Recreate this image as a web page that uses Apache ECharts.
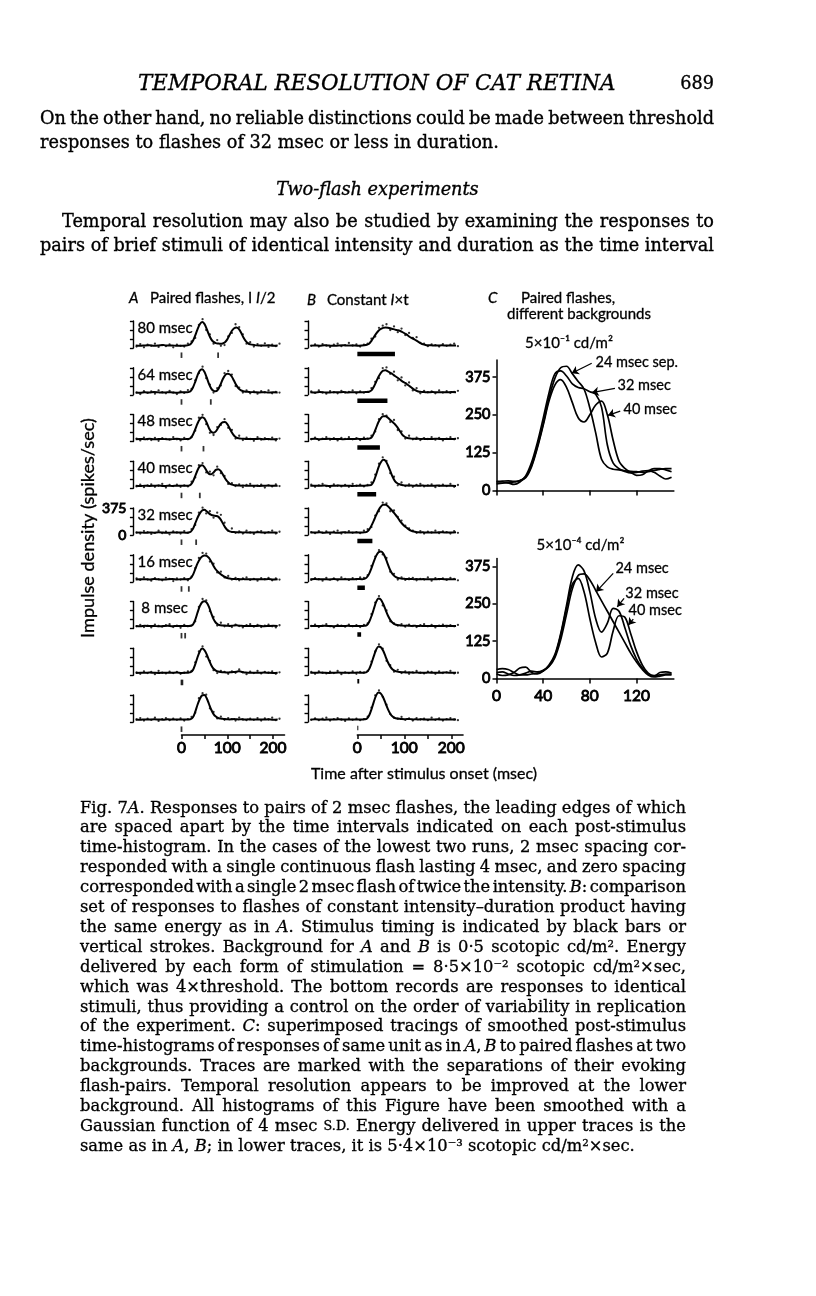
<!DOCTYPE html>
<html>
<head>
<meta charset="utf-8">
<script src="https://cdn.jsdelivr.net/npm/echarts@6.0.0/dist/echarts.min.js"></script>
<style>
  html, body { margin: 0; padding: 0; background: #fff; }
  #chart { width: 816px; height: 1296px; }
</style>
</head>
<body>
<div id="chart"></div>
<script>
// ---------- data ----------
// A: spacing between the two flashes, B: flash duration (msec)
const pairIntervals = [80, 64, 48, 40, 32, 16, 8, 2, 0];
const pairLabels = ['80 msec', '64 msec', '48 msec', '40 msec', '32 msec', '16 msec', ' 8 msec', '', ''];
const flashDurations = [80, 64, 48, 40, 32, 16, 8, 4, 2];

// time grid of the smoothed histograms (msec after onset)
const histTimes = [-100, -90, -80, -70, -60, -50, -40, -30, -20, -10, 0, 10,
  15, 20, 25, 30, 35, 40, 45, 50, 55, 60, 65, 70, 75, 80, 85, 90, 95, 100,
  105, 110, 115, 120, 125, 130, 135, 140, 145, 150,
  160, 170, 180, 190, 200, 210];
// bins of the raw histogram dots
const dotTimes = [-98, -90, -82, -74, -66, -58, -50, -42, -34, -26, -18, -10, -2, 6, 14,
  22, 30, 38, 46, 54, 62, 70, 78, 86, 94, 102, 110, 118, 126, 134, 142, 150,
  158, 166, 174, 182, 190, 198, 206, 214];

// smoothed curves, panel A (spikes/sec)
const pairA80 = [35,30,36,38,32,35,40,33,36,30,32,35, 40,55,100,175,260,330,360,335,265,185,120,85,68,62,58,62,80,120,180,240,275,285,265,215,150,100,68,50, 40,36,34,38,32,35];
const pairA64 = [32,28,35,30,38,33,30,36,32,28,34,33, 36,50,100,180,270,335,355,320,240,150,85,55,50,75,140,215,270,292,285,250,190,130,85,60,48,42,40,38, 35,32,36,30,34,32];
const pairA48 = [30,35,32,38,30,34,36,30,33,37,31,34, 36,50,95,170,250,310,337,320,260,185,135,122,140,190,240,268,270,240,185,125,80,55,45,40,38,36,35,36, 34,38,32,35,30,34];
const pairA40 = [34,30,36,32,35,38,30,34,32,36,33,35, 36,50,95,170,250,305,320,295,240,200,195,220,255,265,245,195,140,95,65,50,42,40,38,36,38,35,36,34, 36,32,35,38,33,35];
const pairA32 = [33,36,30,35,32,38,34,30,36,33,35,32, 35,45,85,160,240,300,340,350,330,300,280,270,265,255,220,165,110,70,50,42,40,38,36,38,35,37,34,36, 35,38,33,36,34,32];
const pairA16 = [30,34,36,32,38,33,30,35,37,32,34,33, 38,50,95,175,255,315,350,365,360,330,280,220,170,135,108,85,66,52,45,40,38,36,38,35,37,34,36,35, 33,36,34,38,32,36];
const pairA8 = [35,32,38,33,36,30,34,37,32,35,33,34, 35,38,55,120,220,310,365,380,360,300,210,130,80,55,45,42,40,38,36,38,42,44,40,37,35,36,34,36, 34,37,32,35,38,34];
const pairA2 = [32,35,33,38,34,31,36,33,35,37,32,34, 36,42,72,150,250,330,370,350,290,210,140,90,65,52,45,42,40,38,40,42,45,48,55,50,42,38,36,35, 36,33,37,34,32,35];
const pairA0 = [34,31,36,33,38,35,32,37,34,36,33,35, 36,40,65,140,240,320,370,375,330,250,170,110,75,55,48,44,40,38,36,38,40,37,35,38,36,34,37,35, 33,36,34,37,32,35];

// smoothed curves, panel B
const constB80 = [33,36,32,38,34,30,35,37,33,36,32,35, 38,45,60,100,150,200,240,265,280,285,282,275,265,255,248,240,225,205,185,160,140,125,105,85,65,50,42,38, 36,34,37,33,35,36];
const constB64 = [35,32,37,33,30,36,34,38,32,35,33,34, 36,38,42,60,110,180,250,305,335,340,325,305,285,260,240,215,190,170,150,125,100,75,58,45,40,38,36,35, 37,34,36,33,38,35];
const constB48 = [34,37,32,35,38,33,36,31,35,34,37,33, 35,37,40,55,110,190,270,325,350,350,330,300,270,240,200,150,100,70,52,45,40,38,36,38,35,37,34,36, 35,38,33,36,34,37];
const constB40 = [36,33,35,38,32,34,37,33,36,31,35,34, 35,37,40,50,100,190,290,360,395,380,320,240,160,100,70,55,45,40,38,36,38,35,37,34,36,38,35,36, 34,37,33,36,35,32];
const constB32 = [33,35,38,32,36,34,31,37,35,33,36,34, 38,45,75,130,200,275,345,395,420,420,400,365,330,290,250,200,160,125,100,75,58,48,42,38,36,37,35,36, 34,36,38,33,35,37];
const constB16 = [35,38,33,36,32,37,34,36,33,35,38,36, 40,60,110,190,280,360,410,420,395,330,240,160,105,72,55,48,42,40,38,36,38,35,37,36,34,37,35,36, 33,36,38,34,35,33];
const constB8 = [34,36,33,37,35,32,36,34,38,33,35,34, 38,45,90,170,270,370,415,400,340,260,180,120,80,58,48,45,40,38,40,37,35,38,36,34,37,35,36,34, 36,33,35,38,34,36];
const constB4 = [36,33,37,34,32,35,38,33,36,34,37,35, 38,45,85,165,265,355,400,390,340,260,180,120,80,60,50,45,42,40,38,40,37,35,38,36,34,36,35,37, 35,33,36,38,34,35];
const constB2 = [33,37,35,32,36,34,38,35,33,36,34,35, 38,45,90,175,280,370,410,395,340,260,180,115,75,55,48,44,40,38,40,42,38,36,37,35,38,36,34,36, 35,37,33,36,34,35];

// raw histogram dots, panel A
const dotsA80 = [20,55,10,45,30,60,15,40,25,50,10,45,30,20,60,90,140,320,400,250,190,60,110,30,40,160,210,330,290,190,60,80,20,55,30,65,15,45,25,60];
const dotsA64 = [30,10,50,25,45,15,60,35,20,55,30,10,45,25,65,80,200,300,390,230,140,30,90,130,300,330,280,120,100,30,60,20,45,15,50,35,60,20,40,30];
const dotsA48 = [40,15,55,30,20,50,10,45,35,25,60,30,15,50,30,60,150,330,370,240,120,90,200,230,310,190,160,40,80,20,55,35,10,60,25,45,30,55,15,40];
const dotsA40 = [25,50,15,40,55,20,35,60,10,45,30,50,20,40,25,90,150,320,350,220,230,180,300,210,170,60,70,30,55,15,45,60,20,35,50,10,40,25,55,30];
const dotsA32 = [35,20,55,40,15,30,60,25,45,10,50,35,20,55,30,80,140,310,380,300,330,240,310,280,170,60,90,30,50,20,60,35,15,45,55,25,40,60,20,45];
const dotsA16 = [45,25,60,30,15,50,35,20,55,40,10,45,30,50,20,70,190,330,400,390,280,250,130,140,60,80,30,55,20,45,60,25,40,15,50,35,55,20,45,30];
const dotsA8 = [30,50,20,40,15,55,35,25,45,60,20,40,10,50,30,40,100,300,410,390,240,160,40,80,30,60,20,55,35,15,45,60,25,50,20,40,55,30,15,45];
const dotsA2 = [40,20,55,30,45,15,60,35,25,50,30,45,20,35,55,60,180,330,400,260,200,70,30,60,45,20,55,35,80,40,15,50,30,60,25,45,35,55,20,40];
const dotsA0 = [35,55,20,45,30,60,15,40,55,25,45,30,50,20,40,70,130,330,400,380,190,140,50,75,30,55,40,20,60,35,25,45,30,55,20,50,35,60,25,45];

// raw histogram dots, panel B
const dotsB80 = [30,50,20,55,35,15,45,60,25,40,70,35,50,20,45,60,130,160,280,310,330,250,300,220,270,180,210,140,150,70,60,25,50,40,20,55,30,45,60,25];
const dotsB64 = [45,25,60,30,15,50,35,20,55,30,40,60,20,45,30,40,90,180,230,370,380,290,320,200,240,130,170,60,90,20,55,35,45,20,60,30,50,25,40,55];
const dotsB48 = [30,55,20,40,60,25,45,15,50,35,60,30,45,20,55,40,80,140,310,380,360,270,300,160,140,40,80,30,55,20,45,35,60,25,50,15,40,60,30,45];
const dotsB40 = [50,20,40,60,30,15,55,35,25,45,20,60,35,50,25,45,80,190,340,430,380,210,160,40,80,30,55,20,45,60,25,40,55,15,35,50,30,60,20,45];
const dotsB32 = [40,25,55,30,50,15,45,60,20,35,55,30,40,25,60,80,110,270,330,450,440,330,340,250,200,130,90,60,30,55,20,45,35,60,25,50,40,20,55,30];
const dotsB16 = [25,50,35,15,55,30,45,20,60,40,25,50,35,60,55,90,220,350,440,380,330,140,110,30,60,25,45,55,20,40,30,60,15,50,35,45,25,55,40,20];
const dotsB8 = [35,55,20,40,60,30,15,50,40,25,55,30,45,20,50,70,200,360,450,320,250,100,70,40,60,25,55,35,20,45,60,30,50,15,40,55,25,45,30,50];
const dotsB4 = [45,20,55,35,25,50,30,60,15,40,30,55,20,45,35,60,190,330,430,370,200,140,50,75,30,55,20,40,60,35,25,50,45,20,55,30,40,60,25,35];
const dotsB2 = [30,50,25,45,60,20,40,55,35,15,50,30,45,25,40,75,200,370,440,350,240,110,60,45,70,30,50,20,55,35,45,25,60,30,50,20,40,55,35,25];

// panel C: superimposed smoothed traces, 5 msec steps
const traceTimes = [0,5,10,15,20,25,30,35,40,45,50,55,60,65,70,75,80,85,90,95,100,105,110,115,120,125,130,135,140,145,150];
const highBg24 = [22,24,26,28,32,45,82,145,220,305,370,405,410,385,360,335,272,190,103,78,70,68,65,63,62,60,62,66,70,72,72];
const highBg32 = [28,28,25,20,28,48,92,158,238,322,385,395,378,352,340,336,326,318,275,150,90,72,63,58,60,64,66,60,48,38,44];
const highBg40 = [30,31,32,30,33,42,78,140,215,295,348,366,340,290,240,226,250,282,295,250,165,97,73,60,50,52,65,72,72,68,62];
const lowBg24 = [30,33,30,20,12,12,15,18,25,40,70,130,215,300,345,350,330,295,260,225,190,155,120,85,55,30,12,5,8,12,12];
const lowBg32 = [15,10,12,20,35,38,20,15,25,45,80,150,245,340,380,360,290,200,155,185,235,225,170,110,65,35,15,8,20,22,18];
const lowBg40 = [20,22,15,10,12,18,25,22,28,42,75,145,235,315,335,290,200,120,72,85,160,210,205,150,90,45,18,10,12,15,15];

// tick values
const histScaleLabels = [0, 375];
const timeTicks = [0, 50, 100, 150, 200];
const timeTickLabels = [0, 100, 200];
const traceTicksX = [0, 40, 80, 120];
const traceTicksY = [0, 125, 250, 375];

const pairedCurves = [pairA80, pairA64, pairA48, pairA40, pairA32, pairA16, pairA8, pairA2, pairA0];
const pairedDots = [dotsA80, dotsA64, dotsA48, dotsA40, dotsA32, dotsA16, dotsA8, dotsA2, dotsA0];
const constantCurves = [constB80, constB64, constB48, constB40, constB32, constB16, constB8, constB4, constB2];
const constantDots = [dotsB80, dotsB64, dotsB48, dotsB40, dotsB32, dotsB16, dotsB8, dotsB4, dotsB2];

// ---------- page text ----------
const headerText = 'TEMPORAL RESOLUTION OF CAT RETINA';
const pageNumber = '689';
const bodyLines = [
  'On the other hand, no reliable distinctions could be made between threshold',
  'responses to flashes of 32 msec or less in duration.',
  'Temporal resolution may also be studied by examining the responses to',
  'pairs of brief stimuli of identical intensity and duration as the time interval'
];
const subheading = 'Two-flash experiments';
const captionLines = [
  'Fig. 7*A*. Responses to pairs of 2 msec flashes, the leading edges of which',
  'are spaced apart by the time intervals indicated on each post-stimulus',
  'time-histogram. In the cases of the lowest two runs, 2 msec spacing cor-',
  'responded with a single continuous flash lasting 4 msec, and zero spacing',
  'corresponded with a single 2 msec flash of twice the intensity. *B*: comparison',
  'set of responses to flashes of constant intensity–duration product having',
  'the same energy as in *A*. Stimulus timing is indicated by black bars or',
  'vertical strokes. Background for *A* and *B* is 0·5 scotopic cd/m². Energy',
  'delivered by each form of stimulation = 8·5×10⁻² scotopic cd/m²×sec,',
  'which was 4×threshold. The bottom records are responses to identical',
  'stimuli, thus providing a control on the order of variability in replication',
  'of the experiment. *C*: superimposed tracings of smoothed post-stimulus',
  'time-histograms of responses of same unit as in *A*, *B* to paired flashes at two',
  'backgrounds. Traces are marked with the separations of their evoking',
  'flash-pairs. Temporal resolution appears to be improved at the lower',
  'background. All histograms of this Figure have been smoothed with a',
  'Gaussian function of 4 msec ^S.D.^ Energy delivered in upper traces is the',
  'same as in *A*, *B*; in lower traces, it is 5·4×10⁻³ scotopic cd/m²×sec.'
];

// ---------- helpers ----------
const ink = '#000';
const sansFamily = 'Lato, "DejaVu Sans", sans-serif';
const serifFamily = '"DejaVu Serif", serif';

const measureCtx = document.createElement('canvas').getContext('2d');
function textWidth(str, font) {
  measureCtx.font = font;
  return measureCtx.measureText(str).width;
}
function makeFonts(size, family, weight) {
  return {
    roman: `${size}px ${family}`,
    italic: `italic ${size}px ${family}`,
    small: `${size * 0.78}px ${family}`,
    weight: weight || 0
  };
}
// *word* is italic, ^word^ is small capitals
function parseRuns(word, fonts) {
  const runs = [];
  word.split(/(\*[^*]+\*|\^[^^]+\^)/).forEach((part) => {
    if (!part) return;
    if (part[0] === '*') runs.push({ text: part.slice(1, -1), font: fonts.italic });
    else if (part[0] === '^') runs.push({ text: part.slice(1, -1), font: fonts.small });
    else runs.push({ text: part, font: fonts.roman });
  });
  return runs;
}
function wordsWidth(str, fonts) {
  return str.split(' ').reduce((s, word) => s + parseRuns(word, fonts)
    .reduce((a, r) => a + textWidth(r.text, r.font), 0), 0);
}
function naturalWidth(str, fonts, spaceFactor) {
  const n = str.split(' ').length - 1;
  return wordsWidth(str, fonts) + textWidth(' ', fonts.roman) * n * (spaceFactor == null ? 1 : spaceFactor);
}
// a thin outline thickens the glyphs a little, like the printed page
function textEl(text, x, y, font, opts) {
  const o = opts || {};
  const align = o.align || 'left';
  const style = {
    text, font, fill: ink,
    textAlign: align, textVerticalAlign: 'middle',
    align, verticalAlign: 'middle'
  };
  if (o.weight) {
    style.stroke = ink;
    style.lineWidth = o.weight;
  }
  const el = { type: 'text', x, y, silent: true, style };
  if (o.rotation) el.rotation = o.rotation;
  return el;
}
// lays out one line word by word, justified when a width is given
function lineElements(str, x, y, fonts, opts) {
  const words = str.split(' ').map((w) => parseRuns(w, fonts));
  const widths = words.map((runs) => runs.reduce((s, r) => s + textWidth(r.text, r.font), 0));
  const total = widths.reduce((a, b) => a + b, 0);
  const space = textWidth(' ', fonts.roman);
  const gap = opts.width && words.length > 1 ? (opts.width - total) / (words.length - 1) : space;
  let cx = opts.center ? x - (total + space * (words.length - 1)) / 2 : x;
  const els = [];
  words.forEach((runs) => {
    runs.forEach((r) => {
      els.push(textEl(r.text, cx, y, r.font, { weight: fonts.weight }));
      cx += textWidth(r.text, r.font);
    });
    cx += gap;
  });
  return els;
}

const chart = echarts.init(document.getElementById('chart'), null, { renderer: 'canvas' });
const grids = [];
const xAxes = [];
const yAxes = [];
const series = [];
const graphics = [];
// tick labels are drawn after layout, at positions from the axes' own scales
const tickLabelJobs = [];

function addGrid(box, xAxis, yAxis) {
  grids.push(Object.assign({ outerBoundsMode: 'none' }, box));
  const i = grids.length - 1;
  xAxes.push(Object.assign({ gridIndex: i, type: 'value', splitLine: { show: false }, axisLabel: { show: false } }, xAxis));
  yAxes.push(Object.assign({ gridIndex: i, type: 'value', splitLine: { show: false }, axisLabel: { show: false } }, yAxis));
  return i;
}

const axisLine = { show: true, onZero: false, lineStyle: { color: ink, width: 1.5 } };

// ---------- panels A and B: small histograms ----------
const plotBase0 = 348;
const plotStep = 46.75;
const plotHeight = 27;
const histMin = -105;
const histMax = 220;

function addHistogram(i, left, pxPerMs, curve, dots) {
  const top = plotBase0 + plotStep * i - plotHeight;
  const gi = addGrid(
    { left, top, width: (histMax - histMin) * pxPerMs, height: plotHeight },
    { min: histMin, max: histMax, show: false },
    {
      min: 0, max: 375, interval: 125,
      axisLine: { show: true, onZero: false, lineStyle: { color: ink, width: 1.4 } },
      axisTick: { show: true, length: 3.5, lineStyle: { color: ink, width: 1.4 } }
    }
  );
  series.push({
    type: 'line', xAxisIndex: gi, yAxisIndex: gi,
    data: histTimes.map((t, k) => [t, curve[k]]),
    smooth: 0.3, symbol: 'none', clip: false, silent: true,
    lineStyle: { color: ink, width: 2 }
  });
  series.push({
    type: 'scatter', xAxisIndex: gi, yAxisIndex: gi,
    data: dotTimes.map((t, k) => [t, dots[k]]),
    symbolSize: 2.3, clip: false, silent: true,
    itemStyle: { color: ink }
  });
  return { gi, top };
}

const figFonts = makeFonts(15, sansFamily, 0.3);

pairIntervals.forEach((interval, i) => {
  const { gi, top } = addHistogram(i, 133.4, 0.458, pairedCurves[i], pairedDots[i]);
  const flashes = interval === 0 ? [0] : [0, interval];
  // vertical strokes mark the two flashes
  series.push({
    type: 'scatter', xAxisIndex: gi, yAxisIndex: gi,
    data: flashes.map((t) => [t, -100]),
    symbol: 'rect', symbolSize: [1.8, 5.5], clip: false, silent: true,
    itemStyle: { color: ink }
  });
  if (pairLabels[i]) {
    graphics.push(textEl(pairLabels[i], 137.5, top + 7, figFonts.roman, { weight: 0.3 }));
  }
  // the 32 msec record carries the vertical scale
  if (interval === 32) {
    histScaleLabels.forEach((v) => tickLabelJobs.push({ gi, at: [histMin, v], dx: -7, dy: 0, align: 'right', size: 14 }));
  }
});

flashDurations.forEach((dur, i) => {
  const { gi } = addHistogram(i, 308, 0.47, constantCurves[i], constantDots[i]);
  // black bar spans the flash
  series.push({
    type: 'line', xAxisIndex: gi, yAxisIndex: gi,
    data: [[0, -85], [dur, -85]],
    symbol: 'none', clip: false, silent: true,
    lineStyle: { color: ink, width: 4.5, cap: 'butt' }
  });
});

// shared time axes under A and B
[[181.5, 0.458], [357.3, 0.47]].forEach(([left, pxPerMs]) => {
  const gi = addGrid(
    { left, top: 734, width: 225 * pxPerMs, height: 1 },
    {
      min: 0, max: 225, interval: 50,
      axisLine,
      axisTick: { show: true, length: 4, customValues: timeTicks, lineStyle: { color: ink, width: 1.5 } }
    },
    { show: false, min: 0, max: 1 }
  );
  timeTickLabels.forEach((v) => tickLabelJobs.push({ gi, at: [v, 0], dx: 0, dy: 12.5, align: 'center', size: 15.5 }));
});

// ---------- panel C ----------
function addTraceGrid(top, height, yMax, showX) {
  const gi = addGrid(
    { left: 496.5, top, width: 152 * 1.167, height },
    {
      min: 0, max: 152,
      axisLine,
      axisTick: { show: true, length: 5, customValues: traceTicksX, lineStyle: { color: ink, width: 1.5 } }
    },
    {
      min: 0, max: yMax,
      axisLine,
      axisTick: { show: true, length: 4, customValues: traceTicksY, lineStyle: { color: ink, width: 1.5 } }
    }
  );
  traceTicksY.forEach((v) => tickLabelJobs.push({ gi, at: [0, v], dx: -6, dy: 0, align: 'right', size: 14.5 }));
  if (showX) {
    traceTicksX.forEach((v) => tickLabelJobs.push({ gi, at: [v, 0], dx: 0, dy: 17, align: 'center', size: 15.5 }));
  }
  return gi;
}

function addTrace(gi, values, arrow, label) {
  series.push({
    type: 'line', xAxisIndex: gi, yAxisIndex: gi,
    data: traceTimes.map((t, k) => [t, values[k]]),
    smooth: 0.35, symbol: 'none', clip: false, silent: true,
    lineStyle: { color: ink, width: 1.7 },
    markLine: {
      silent: true, symbol: ['none', 'arrow'], symbolSize: 7,
      label: { show: false },
      lineStyle: { color: ink, width: 1.3, type: 'solid' },
      data: [[{ coord: arrow[0] }, { coord: arrow[1] }]]
    },
    markPoint: {
      silent: true, symbol: 'circle', symbolSize: 1,
      itemStyle: { color: 'rgba(0,0,0,0)' },
      label: {
        show: true, position: 'right', distance: 0, formatter: label.text,
        color: ink, fontFamily: 'Lato', fontSize: 14.5,
        textBorderColor: ink, textBorderWidth: 0.3
      },
      data: [{ coord: label.at }]
    }
  });
}

const upperC = addTraceGrid(359.9, 130.6, 431, false);
addTrace(upperC, highBg24, [[81.6, 420], [64.4, 387]], { text: '24 msec sep.', at: [84.4, 424] });
addTrace(upperC, highBg32, [[101.5, 337], [81.6, 323]], { text: '32 msec', at: [103.3, 348] });
addTrace(upperC, highBg40, [[106, 262], [95.5, 248]], { text: '40 msec', at: [108.4, 269] });

const lowerC = addTraceGrid(558.4, 120.1, 402, true);
addTrace(lowerC, lowBg24, [[100, 352], [85.3, 290]], { text: '24 msec', at: [101.5, 370] });
addTrace(lowerC, lowBg32, [[109.3, 268], [103.5, 240]], { text: '32 msec', at: [110, 286] });
addTrace(lowerC, lowBg40, [[117.2, 199], [113, 179]], { text: '40 msec', at: [112.7, 229] });

// ---------- figure labels ----------
graphics.push(...lineElements('*A*', 129, 298, figFonts, {}));
graphics.push(...lineElements('Paired flashes, I *I*/2', 150, 298, figFonts, {}));
graphics.push(...lineElements('*B*', 307, 300, figFonts, {}));
graphics.push(...lineElements('Constant *I*×t', 327, 300, figFonts, {}));
graphics.push(...lineElements('*C*', 488, 298, figFonts, {}));
graphics.push(...lineElements('Paired flashes,', 568, 298, figFonts, { center: true }));
graphics.push(...lineElements('different backgrounds', 579, 314, figFonts, { center: true }));
graphics.push(...lineElements('5×10⁻¹ cd/m²', 569, 343, figFonts, { center: true }));
graphics.push(...lineElements('5×10⁻⁴ cd/m²', 580.5, 545, figFonts, { center: true }));
graphics.push(...lineElements('Time after stimulus onset (msec)', 424, 774, makeFonts(16, sansFamily, 0.3), { center: true }));
const yTitle = 'Impulse density (spikes/sec)';
const yTitleSize = 100 * 220 / textWidth(yTitle, `100px ${sansFamily}`);
graphics.push(textEl(yTitle, 88, 528, `${yTitleSize}px ${sansFamily}`,
  { align: 'center', rotation: Math.PI / 2, weight: 0.3 }));

// ---------- running text ----------
const bodySize = 100 * 459 / naturalWidth(bodyLines[1], makeFonts(100, serifFamily));
const bodyFonts = makeFonts(bodySize, serifFamily, 0.35);
const headerSize = 100 * 478 / textWidth(headerText, `italic 100px ${serifFamily}`);

graphics.push(textEl(headerText, 138, 84, `italic ${headerSize}px ${serifFamily}`, { weight: 0.3 }));
graphics.push(textEl(pageNumber, 714, 84, bodyFonts.roman, { align: 'right', weight: 0.35 }));
graphics.push(...lineElements(bodyLines[0], 40, 119, bodyFonts, { width: 674 }));
graphics.push(...lineElements(bodyLines[1], 40, 143, bodyFonts, {}));
graphics.push(...lineElements('*' + subheading.split(' ').join('* *') + '*', 377.5, 190, bodyFonts, { center: true }));
graphics.push(...lineElements(bodyLines[2], 62, 222, bodyFonts, { width: 652 }));
graphics.push(...lineElements(bodyLines[3], 40, 246, bodyFonts, { width: 674 }));

// caption size: the last line's width, but no justified line may need spaces tighter than 0.45 of normal
const unitFonts = makeFonts(100, serifFamily);
let captionSize = 100 * 562.7 / naturalWidth(captionLines[captionLines.length - 1], unitFonts);
captionLines.slice(0, -1).forEach((line) => {
  captionSize = Math.min(captionSize, 100 * 606 / naturalWidth(line, unitFonts, 0.45));
});
const captionFonts = makeFonts(captionSize, serifFamily, 0.3);
captionLines.forEach((line, i) => {
  const last = i === captionLines.length - 1;
  graphics.push(...lineElements(line, 80, 808.3 + 19.9 * i, captionFonts, last ? {} : { width: 606 }));
});

chart.setOption({
  backgroundColor: '#fff',
  animation: false,
  grid: grids,
  xAxis: xAxes,
  yAxis: yAxes,
  series: series
});

// numbers on the axes, placed through each grid's own scales; the outline gives the heavy print weight
tickLabelJobs.forEach((job) => {
  const [px, py] = chart.convertToPixel({ gridIndex: job.gi }, job.at);
  graphics.push(textEl(String(job.at[job.align === 'right' ? 1 : 0]), px + job.dx, py + job.dy,
    `${job.size}px ${sansFamily}`, { align: job.align, weight: 0.9 }));
});

chart.setOption({ graphic: { elements: graphics } });
</script>
</body>
</html>
